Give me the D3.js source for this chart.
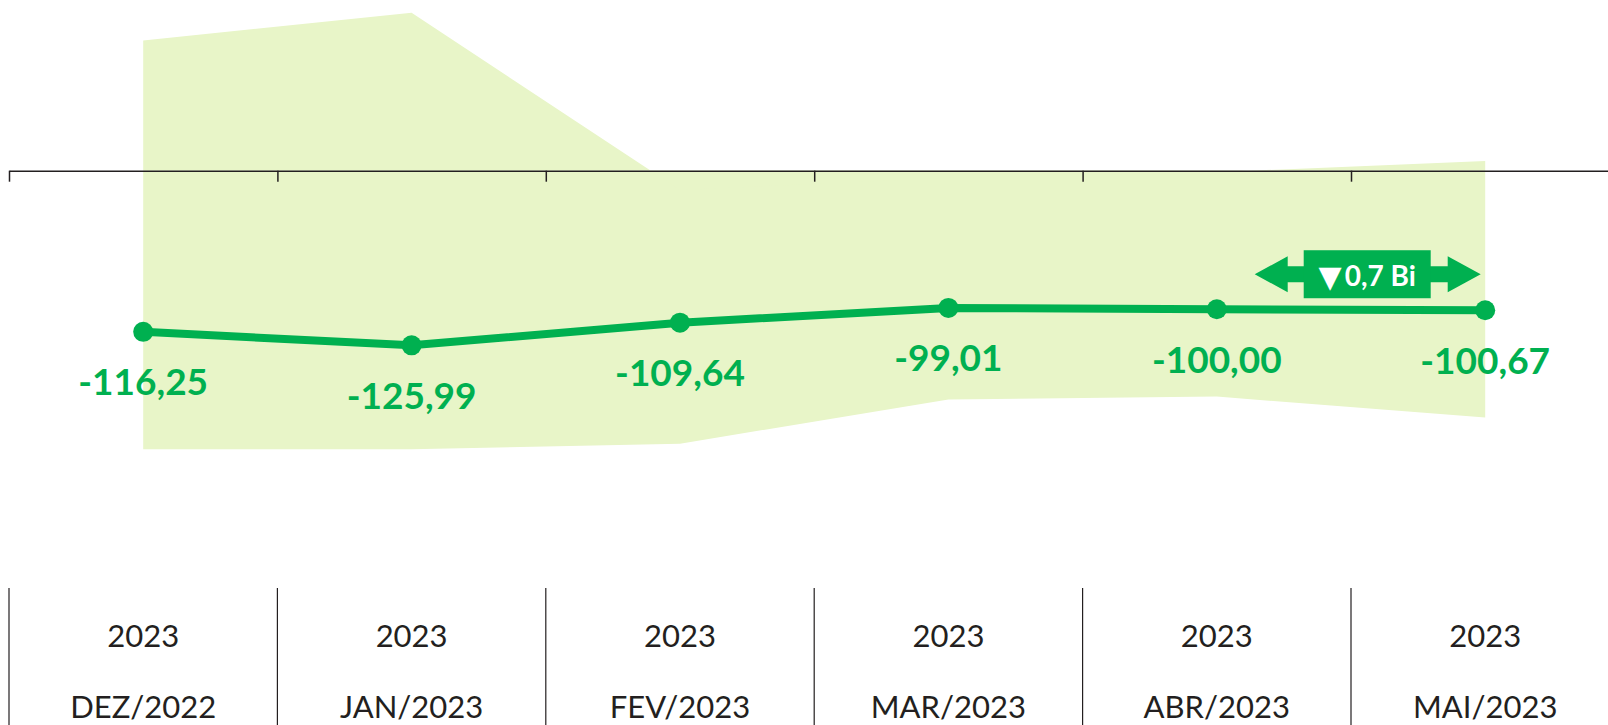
<!DOCTYPE html>
<html>
<head>
<meta charset="utf-8">
<script src="https://cdn.jsdelivr.net/npm/d3@7/dist/d3.min.js"></script>
<style>
  html, body { margin: 0; padding: 0; background: #ffffff; }
  svg { display: block; }
</style>
</head>
<body>
<svg id="chart" width="1608" height="725"></svg>
<script>
// Monthly result series (R$ bi) with its surrounding range band
const months = ["DEZ/2022", "JAN/2023", "FEV/2023", "MAR/2023", "ABR/2023", "MAI/2023"];
const years = ["2023", "2023", "2023", "2023", "2023", "2023"];
const values = [-116.25, -125.99, -109.64, -99.01, -100.00, -100.67];
const bandUpper = [94, 114, -14, -5, -1, 7];
const bandLower = [-201, -201, -197, -165, -163, -178];

const GREEN = "#00B050";
const BAND = "#E8F5C8";
const INK = "#231f20";

const svg = d3.select("#chart");
const W = 1608, H = 725;

const left = 9, step = 268.4;
const x = d3.scaleBand().domain(months).range([left, left + step * months.length]).paddingInner(0).paddingOuter(0);
const cx = m => x(m) + x.bandwidth() / 2;
const edges = d3.scaleLinear().domain([0, months.length]).range([left, left + step * months.length]);

const y = d3.scaleLinear().domain([-250, 120]).range([517.2, 4.38]);

const rows = months.map((m, i) => ({ m, year: years[i], v: values[i], hi: bandUpper[i], lo: bandLower[i] }));

// range band, each side filled against zero
const areaHi = d3.area().x(d => cx(d.m)).y0(y(0)).y1(d => y(d.hi));
const areaLo = d3.area().x(d => cx(d.m)).y0(y(0)).y1(d => y(d.lo));
svg.append("path").datum(rows).attr("d", areaLo).attr("fill", BAND);
svg.append("path").datum(rows).attr("d", areaHi).attr("fill", BAND);

// category axis at zero, ticks on band edges
const axis = d3.axisBottom(edges).ticks(months.length).tickFormat("").tickSizeInner(11).tickSizeOuter(0);
const gAxis = svg.append("g").attr("transform", `translate(0,${y(0)})`).call(axis);
gAxis.select(".domain").attr("stroke", INK).attr("stroke-width", 1.5);
gAxis.selectAll(".tick line").attr("stroke", INK).attr("stroke-width", 1.5);

// series line and markers
const line = d3.line().x(d => cx(d.m)).y(d => y(d.v));
svg.append("path").datum(rows).attr("d", line)
  .attr("fill", "none").attr("stroke", GREEN).attr("stroke-width", 8).attr("stroke-linejoin", "round");
svg.selectAll("circle.pt").data(rows).join("circle")
  .attr("class", "pt").attr("cx", d => cx(d.m)).attr("cy", d => y(d.v)).attr("r", 10).attr("fill", GREEN);

// value labels
const fmt = v => v.toFixed(2).replace(".", ",");
svg.selectAll("text.val").data(rows).join("text")
  .attr("class", "val")
  .attr("x", d => cx(d.m)).attr("y", d => y(d.v) + 63.5)
  .attr("text-anchor", "middle")
  .attr("font-family", "Lato, 'Open Sans', sans-serif")
  .attr("font-weight", 700).attr("font-size", 37)
  .attr("fill", GREEN)
  .text(d => fmt(d.v));

// month-over-month change callout between the last two points
const last = rows[rows.length - 1], prev = rows[rows.length - 2];
const delta = last.v - prev.v;
const tipR = cx(last.m) - 4.5, tipL = tipR - 226;
const cy = y(last.v) - 36;
const headLen = 33, headHalf = 18, shaftHalf = 8;
const boxL = tipL + 49, boxR = tipR - 50, boxHalf = 24;
const g = svg.append("g");
g.append("path")
  .attr("d", [
    `M${tipL},${cy}`,
    `L${tipL + headLen},${cy - headHalf}`,
    `L${tipL + headLen},${cy - shaftHalf}`,
    `L${tipR - headLen},${cy - shaftHalf}`,
    `L${tipR - headLen},${cy - headHalf}`,
    `L${tipR},${cy}`,
    `L${tipR - headLen},${cy + headHalf}`,
    `L${tipR - headLen},${cy + shaftHalf}`,
    `L${tipL + headLen},${cy + shaftHalf}`,
    `L${tipL + headLen},${cy + headHalf}`,
    "Z"
  ].join(""))
  .attr("fill", GREEN);
g.append("rect").attr("x", boxL).attr("y", cy - boxHalf)
  .attr("width", boxR - boxL).attr("height", boxHalf * 2).attr("fill", GREEN);
const t = g.append("text")
  .attr("x", (boxL + boxR) / 2).attr("y", cy + 12)
  .attr("text-anchor", "middle")
  .attr("font-family", "Lato, 'Open Sans', sans-serif")
  .attr("font-weight", 700).attr("font-size", 28)
  .attr("fill", "#ffffff");
t.append("tspan").attr("font-family", "'DejaVu Sans'").attr("font-weight", 400).attr("font-size", 30)
  .attr("dy", 1).text(delta < 0 ? "▼" : "▲");
t.append("tspan").attr("dx", 3).attr("dy", -1).text(Math.abs(delta).toFixed(1).replace(".", ",") + " Bi");

// category table below the plot
const tableTop = 588;
svg.append("g").selectAll("line").data(d3.range(months.length + 1)).join("line")
  .attr("x1", i => edges(i)).attr("x2", i => edges(i))
  .attr("y1", tableTop).attr("y2", H)
  .attr("stroke", INK).attr("stroke-width", 1.2);
const lab = svg.append("g")
  .attr("font-family", "Lato, 'Open Sans', sans-serif")
  .attr("font-size", 31).attr("fill", INK).attr("text-anchor", "middle");
lab.selectAll("text.yr").data(rows).join("text").attr("class", "yr")
  .attr("x", d => cx(d.m)).attr("y", 647.3).text(d => d.year);
lab.selectAll("text.mo").data(rows).join("text").attr("class", "mo")
  .attr("x", d => cx(d.m)).attr("y", 718.3).text(d => d.m);
</script>
</body>
</html>
